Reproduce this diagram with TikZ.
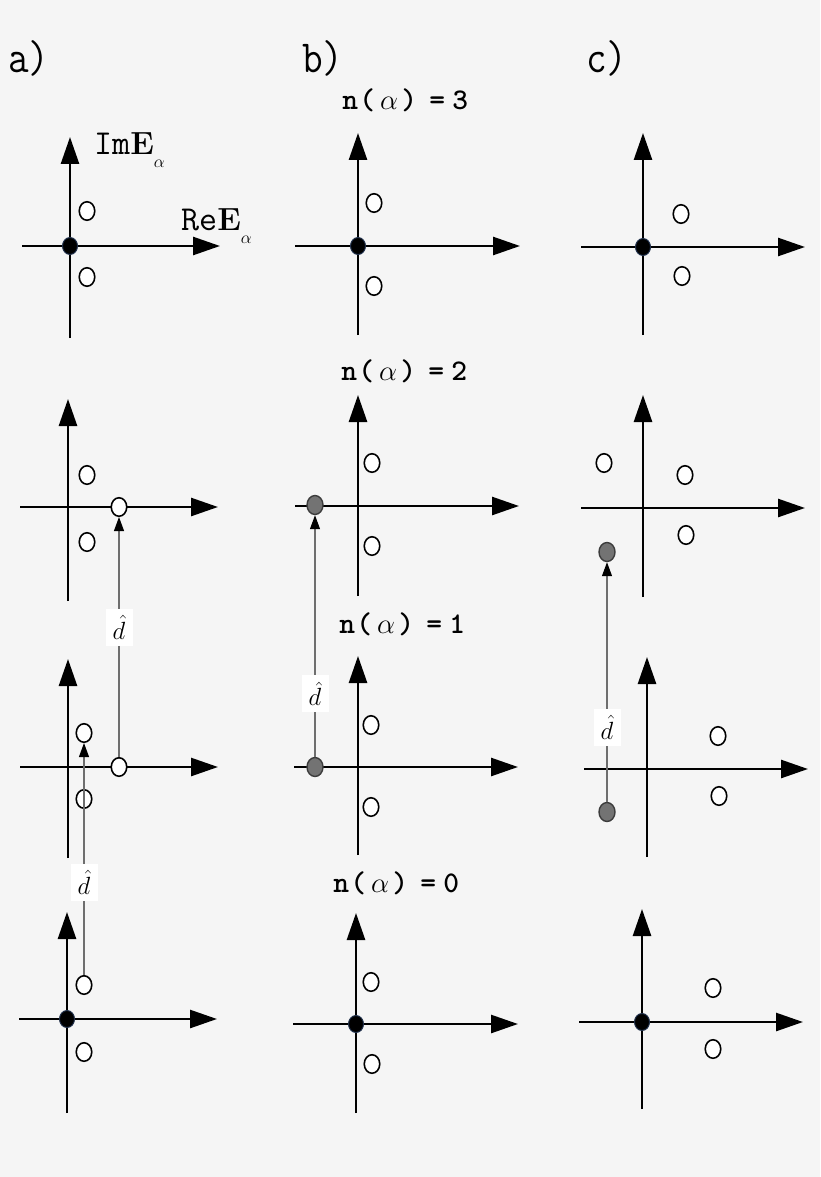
\documentclass[tikz,border=0pt]{standalone}
\usepackage{graphicx}
\usetikzlibrary{arrows.meta,shapes.geometric}
\definecolor{bgc}{HTML}{F5F5F5}
\definecolor{dotedge}{HTML}{1F2F4A}
\definecolor{grayfill}{HTML}{737373}
\definecolor{grayedge}{HTML}{3C3C3C}
\definecolor{dline}{HTML}{6E6E6E}
\newcommand\chbox[2]{\makebox[#1pt]{#2}}
\newcommand\nalpha[1]{\fontsize{30}{30}\selectfont\ttfamily\bfseries\chbox{14}{n}\chbox{20}{(}\chbox{24}{\scalebox{1.15}{$\alpha$}}\chbox{16}{)}\chbox{40}{=}\chbox{6}{#1}}
\newcommand\axset[6]{\draw[axisline] (#1,#2) -- (#1,#3); \draw[axisline] (#4,#6) -- (#5,#6);}
\begin{document}
\begin{tikzpicture}[x=1pt,y=-1pt,
 axisline/.style={line width=2.6pt,-{Triangle[length=27pt,width=18pt]}},
 hollow/.style={ellipse,draw=black,fill=white,line width=1.6pt,minimum width=15.5pt,minimum height=18.5pt,inner sep=0pt},
 blackdot/.style={ellipse,draw=dotedge,fill=black,line width=1pt,minimum width=15pt,minimum height=17pt,inner sep=0pt},
 graydot/.style={ellipse,draw=grayedge,fill=grayfill,line width=1.4pt,minimum width=16pt,minimum height=19pt,inner sep=0pt},
 darrow/.style={draw=dline,line width=1.1pt,-{Triangle[length=14pt,width=10pt,color=black]}},
 dlabel/.style={fill=white,inner sep=0pt,minimum width=27pt,minimum height=37pt,font=\fontsize{24}{24}\selectfont},
 panel/.style={inner sep=0pt,anchor=base west,font=\fontsize{40}{40}\selectfont\ttfamily},
 ntext/.style={inner sep=0pt,anchor=base west},
 axlabel/.style={inner sep=0pt,anchor=base west}]
\useasboundingbox (0,0) rectangle (820,1177);
\fill[bgc] (0,0) rectangle (820,1177);

% axes: x, ybottom, ytop, xleft, xright, yh
% row 1
\axset{70}{338}{137}{22}{220}{246}
\axset{358}{335}{133}{295}{520}{246}
\axset{643}{335}{133}{581}{805}{247}
% row 2
\axset{68}{601}{399}{20}{218}{507}
\axset{358}{596}{395}{295}{519}{506}
\axset{643}{597}{395}{581}{805}{508}
% row 3
\axset{68}{858}{659}{20}{218}{767}
\axset{358}{855}{656}{294}{518}{767}
\axset{647}{857}{657}{584}{808}{769}
% row 4
\axset{67}{1113}{912}{19}{217}{1019}
\axset{356}{1113}{913}{293}{518}{1024}
\axset{642}{1109}{909}{579}{803}{1022}

% row 1 points
\node[blackdot] (a1o) at (70,246) {};
\node[hollow] (a1u) at (87,211) {};
\node[hollow] (a1l) at (87,277) {};
\node[blackdot] (b1o) at (358,246) {};
\node[hollow] (b1u) at (374,203) {};
\node[hollow] (b1l) at (374,286) {};
\node[blackdot] (c1o) at (643,247) {};
\node[hollow] (c1u) at (681,214) {};
\node[hollow] (c1l) at (682,276) {};

% row 2 points
\node[hollow] (a2u) at (87,475) {};
\node[hollow] (a2l) at (87,542) {};
\node[hollow] (a2r) at (119,507) {};
\node[hollow] (b2u) at (372,463) {};
\node[hollow] (b2l) at (372,546) {};
\node[graydot] (b2g) at (315,505) {};
\node[hollow] (c2a) at (604,463) {};
\node[hollow] (c2u) at (685,475) {};
\node[hollow] (c2l) at (686,535) {};
\node[graydot] (c2g) at (607,552) {};

% row 3 points
\node[hollow] (a3u) at (84,733) {};
\node[hollow] (a3l) at (84,799) {};
\node[hollow] (a3r) at (119,767) {};
\node[hollow] (b3u) at (371,725) {};
\node[hollow] (b3l) at (371,807) {};
\node[graydot] (b3g) at (315,767) {};
\node[hollow] (c3u) at (718,736) {};
\node[hollow] (c3l) at (719,796) {};
\node[graydot] (c3g) at (607,812) {};

% row 4 points
\node[blackdot] (a4o) at (67,1019) {};
\node[hollow] (a4u) at (84,985) {};
\node[hollow] (a4l) at (84,1052) {};
\node[blackdot] (b4o) at (356,1024) {};
\node[hollow] (b4u) at (371,982) {};
\node[hollow] (b4l) at (372,1064) {};
\node[blackdot] (c4o) at (642,1022) {};
\node[hollow] (c4u) at (713,988) {};
\node[hollow] (c4l) at (713,1049) {};

% displacement arrows
\draw[darrow] (a3r) -- node[dlabel,pos=0.54] {$\hat{d}$} (a2r);
\draw[darrow] (a4u) -- node[dlabel,pos=0.40] {$\hat{d}$} (a3u);
\draw[darrow] (b3g) -- node[dlabel,pos=0.26] {$\hat{d}$} (b2g);
\draw[darrow] (c3g) -- node[dlabel,pos=0.31] {$\hat{d}$} (c2g);

% panel labels
\node[panel] (pa) at (8,73) {\scalebox{1}[1.15]{a)}};
\node[panel] (pb) at (302,73) {\scalebox{1}[1.15]{b)}};
\node[panel] (pc) at (586,73) {\scalebox{1}[1.15]{c)}};

% n(alpha) labels
\node[ntext] (n3) at (343,110) {\nalpha{3}};
\node[ntext] (n2) at (342,380) {\nalpha{2}};
\node[ntext] (n1) at (340,633) {\nalpha{1}};
\node[ntext] (n0) at (334,892) {\nalpha{0}};

% axis labels
\node[axlabel] (imlab) at (94,155) {\fontsize{35}{35}\selectfont\ttfamily Im\fontsize{32}{32}\selectfont\rmfamily\bfseries E\raisebox{-13pt}{\fontsize{18}{18}\selectfont$\alpha$}};
\node[axlabel] (relab) at (181,230) {\fontsize{35}{35}\selectfont\ttfamily Re\fontsize{32}{32}\selectfont\rmfamily\bfseries E\raisebox{-13pt}{\fontsize{18}{18}\selectfont$\alpha$}};
\end{tikzpicture}
\end{document}
